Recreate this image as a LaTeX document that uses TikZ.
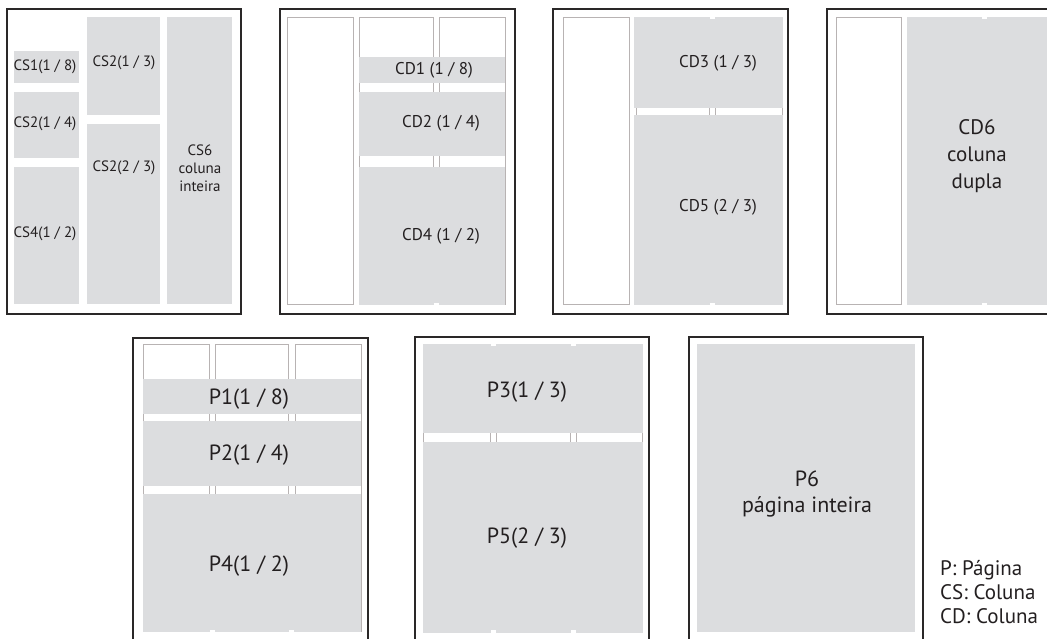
\documentclass[tikz,border=0pt]{standalone}
\usepackage{fontspec}
\setmainfont{PT Sans}
\usepackage{tikz}
\usetikzlibrary{positioning}
\usepackage{xcolor}

\definecolor{cinza}{HTML}{DCDDDF}
\definecolor{traco}{HTML}{B8B3B3}
\definecolor{moldura}{HTML}{2A2828}
\definecolor{tinta}{HTML}{231F20}

\tikzset{
	pagina/.style={draw=moldura, line width=1.3pt},
	coluna/.style={draw=traco, line width=0.9pt, fill=white},
	bloco/.style={fill=cinza},
	corte/.style={fill=white},
	rotulo/.style={text=tinta, inner sep=0pt, align=center, font=\fontsize{15}{18}\selectfont},
	rotuloM/.style={rotulo, font=\fontsize{17}{20}\selectfont},
	rotuloG/.style={rotulo, font=\fontsize{22}{26}\selectfont},
	rotuloD/.style={rotulo, font=\fontsize{21}{27}\selectfont},
	legenda/.style={text=tinta, inner sep=0pt, font=\fontsize{21}{24}\selectfont}
}

\begin{document}
\begin{tikzpicture}[x=1pt, y=-1pt]

	\useasboundingbox (0,0) rectangle (1047,638);
	\clip (0,0) rectangle (1047,638);

	% coluna simples
	\draw[pagina] (7,9) rectangle (241,314);
	\fill[bloco] (14,51) rectangle (79,83);
	\fill[bloco] (14,92) rectangle (79,158);
	\fill[bloco] (14,167) rectangle (79,304);
	\fill[bloco] (87,17) rectangle (160,115);
	\fill[bloco] (87,124) rectangle (160,304);
	\fill[bloco] (167,17) rectangle (232,304);
	\node[rotulo] (cs1) at (45,67) {CS1(1 / 8)};
	\node[rotulo] (cs2a) at (45,124) {CS2(1 / 4)};
	\node[rotulo] (cs4) at (45,234) {CS4(1 / 2)};
	\node[rotulo] (cs2b) at (124,63) {CS2(1 / 3)};
	\node[rotulo] (cs2c) at (124,168) {CS2(2 / 3)};
	\node[rotulo] (cs6) at (200,168) {CS6\\coluna\\inteira};

	% coluna dupla, faixas
	\draw[pagina] (280,9) rectangle (515,314);
	\foreach \a/\b in {287/353, 359/433, 439/505}
		\draw[coluna] (\a,17) rectangle (\b,304);
	\fill[bloco] (359,57) rectangle (505,83);
	\fill[bloco] (359,92) rectangle (505,156);
	\fill[bloco] (359,167) rectangle (505,304.5);
	\fill[corte] (433.5,302.5) rectangle (438.5,305);
	\node[rotuloM] (cd1) at (434,70) {CD1 (1 / 8)};
	\node[rotuloM] (cd2) at (441,123) {CD2 (1 / 4)};
	\node[rotuloM] (cd4) at (441,236) {CD4 (1 / 2)};

	% coluna dupla, terços
	\draw[pagina] (553,9) rectangle (788,314);
	\foreach \a/\b in {563/629, 636/709, 715/782}
		\draw[coluna] (\a,17) rectangle (\b,304);
	\fill[bloco] (634,16.5) rectangle (782.5,108);
	\fill[bloco] (634,115) rectangle (782.5,304.5);
	\foreach \y in {16,302.5}
		\fill[corte] (709.5,\y) rectangle (714.5,\y+2.5);
	\node[rotuloM] (cd3) at (718,63) {CD3 (1 / 3)};
	\node[rotuloM] (cd5) at (718,207) {CD5 (2 / 3)};

	% coluna dupla inteira
	\draw[pagina] (827,9) rectangle (1062,314);
	\foreach \a/\b in {836/901, 908/981, 987/1054}
		\draw[coluna] (\a,17) rectangle (\b,304);
	\fill[bloco] (907,16.5) rectangle (1055,304.5);
	\foreach \y in {16,302.5}
		\fill[corte] (981.5,\y) rectangle (986.5,\y+2.5);
	\node[rotuloD] (cd6) at (977,156) {CD6\\coluna\\dupla};

	% página, faixas
	\draw[pagina] (133,338) rectangle (368,643);
	\foreach \a/\b in {143/209, 215/288, 295/361}
		\draw[coluna] (\a,344) rectangle (\b,631);
	\fill[bloco] (143,379) rectangle (361,414);
	\fill[bloco] (143,421) rectangle (361,486);
	\fill[bloco] (143,494) rectangle (361,631.5);
	\foreach \a in {209.5,288.5}
		\fill[corte] (\a,629.5) rectangle (\a+5.5,632);
	\node[rotuloG] (p1) at (249,399) {P1(1 / 8)};
	\node[rotuloG] (p2) at (249,455) {P2(1 / 4)};
	\node[rotuloG] (p4) at (249,566) {P4(1 / 2)};

	% página, terços
	\draw[pagina] (415,337) rectangle (649,642);
	\foreach \a/\b in {423/490, 496/570, 576/642}
		\draw[coluna] (\a,344) rectangle (\b,632);
	\fill[bloco] (423,343.5) rectangle (642.5,433);
	\fill[bloco] (423,442) rectangle (642.5,632.5);
	\foreach \a in {490.5,570.5}
		\foreach \y in {343,630}
			\fill[corte] (\a,\y) rectangle (\a+5,\y+2.5);
	\node[rotuloG] (p3) at (527,392) {P3(1 / 3)};
	\node[rotuloG] (p5) at (527,538) {P5(2 / 3)};

	% página inteira
	\draw[pagina] (689,337) rectangle (923,642);
	\fill[bloco] (697,344) rectangle (915,632);
	\node[rotuloG] (p6) at (807,494) {P6\\página inteira};

	% legenda
	\node[legenda, anchor=base west] (legP) at (940,575) {P: Página};
	\node[legenda, anchor=base west] (legCS) at (940,599) {CS: Coluna};
	\node[legenda, anchor=base west] (legCD) at (940,623) {CD: Coluna};

\end{tikzpicture}
\end{document}
